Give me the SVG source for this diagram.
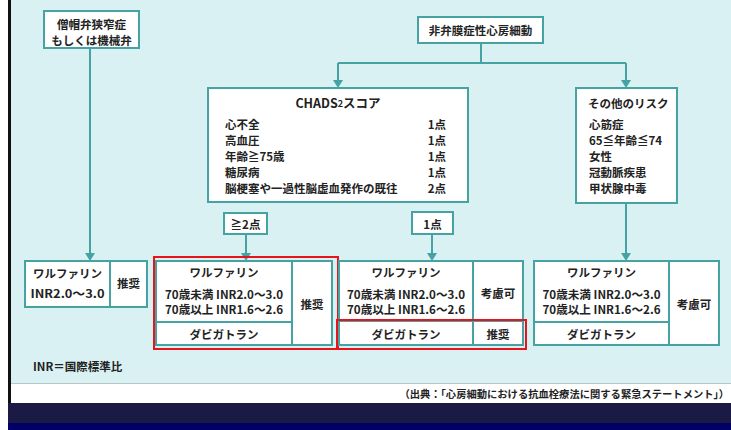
<svg xmlns="http://www.w3.org/2000/svg" width="731" height="430" viewBox="0 0 731 430">
<style>
.box{fill:#fff;stroke:#45a3a3;stroke-width:2}
.div{stroke:#45a3a3;stroke-width:2;fill:none}
.red{fill:none;stroke:#e8141b;stroke-width:2}
.con{stroke:#45a3a3;stroke-width:2;fill:none}
.ah{fill:#45a3a3}
text{font-family:"Noto Sans CJK JP","Noto Sans",sans-serif;font-size:11.5px;fill:#222;font-weight:700;dominant-baseline:central}
.c{text-anchor:middle}
.e{text-anchor:end}
.title{font-size:12.5px}
.src{font-size:10.3px}
</style>
<rect x="0" y="0" width="731" height="430" fill="#fff"/>
<rect x="11" y="0" width="720" height="383" fill="#d9f1f2"/>
<rect x="8" y="0" width="3" height="403" fill="#111"/>
<line x1="11" y1="383.5" x2="731" y2="383.5" stroke="#b8c8c8" stroke-width="1"/>
<rect x="8" y="403" width="723" height="20" fill="#1a1a45"/>
<rect x="8" y="423" width="723" height="7" fill="#000066"/>

<g id="connectors">
<path class="con" d="M90,48V253"/><polygon class="ah" points="85,253 95,253 90,261"/>
<path class="con" d="M481,43V63M338,63H626M338,63V80M626,63V80"/>
<polygon class="ah" points="333,80 343,80 338,88"/>
<polygon class="ah" points="621,80 631,80 626,88"/>
<path class="con" d="M246,234V253"/><polygon class="ah" points="241,253 251,253 246,261"/>
<path class="con" d="M432,234V253"/><polygon class="ah" points="427,253 437,253 432,261"/>
<path class="con" d="M626,203V253"/><polygon class="ah" points="621,253 631,253 626,261"/>
</g>

<g id="mitral">
<rect class="box" x="44" y="11" width="95" height="37"/>
<text class="c" x="91.5" y="24">僧帽弁狭窄症</text>
<text class="c" x="91.5" y="39.5">もしくは機械弁</text>
</g>

<g id="af">
<rect class="box" x="418" y="17" width="125" height="26"/>
<text class="c" x="480.5" y="30">非弁膜症性心房細動</text>
</g>

<g id="chads">
<rect class="box" x="208" y="88" width="260" height="114"/>
<text class="c title" x="338" y="102">CHADS<tspan font-size="9" dy="1">2</tspan><tspan dy="-1">スコア</tspan></text>
<text x="225" y="124">心不全</text>
<text x="225" y="140">高血圧</text>
<text x="225" y="156">年齢≧75歳</text>
<text x="225" y="172">糖尿病</text>
<text x="225" y="188">脳梗塞や一過性脳虚血発作の既往</text>
<text class="e" x="446" y="124">1点</text>
<text class="e" x="446" y="140">1点</text>
<text class="e" x="446" y="156">1点</text>
<text class="e" x="446" y="172">1点</text>
<text class="e" x="446" y="188">2点</text>
</g>

<g id="risk">
<rect class="box" x="576" y="88" width="101" height="115"/>
<text x="588" y="103">その他のリスク</text>
<text x="589" y="124">心筋症</text>
<text x="589" y="140">65≦年齢≦74</text>
<text x="589" y="156">女性</text>
<text x="589" y="172">冠動脈疾患</text>
<text x="589" y="188">甲状腺中毒</text>
</g>

<g id="ge2">
<rect class="box" x="224" y="213" width="43" height="21"/>
<text class="c" x="245.5" y="224">≧2点</text>
</g>

<g id="p1">
<rect class="box" x="412" y="212" width="41" height="22"/>
<text class="c" x="432.5" y="223.5">1点</text>
</g>

<g id="resA">
<rect class="box" x="25" y="261" width="122" height="46"/>
<path class="div" d="M110,261V307"/>
<text class="c" x="67.5" y="273">ワルファリン</text>
<text class="c" x="67.5" y="293" textLength="74" lengthAdjust="spacingAndGlyphs">INR2.0〜3.0</text>
<text class="c" x="128.5" y="283">推奨</text>
</g>

<g id="resB">
<rect class="box" x="156" y="261" width="176" height="84"/>
<path class="div" d="M292,261V345M156,322H292"/>
<text class="c" x="224" y="272">ワルファリン</text>
<text class="c" x="224" y="294" textLength="118" lengthAdjust="spacingAndGlyphs">70歳未満 INR2.0〜3.0</text>
<text class="c" x="224" y="309" textLength="118" lengthAdjust="spacingAndGlyphs">70歳以上 INR1.6〜2.6</text>
<text class="c" x="224" y="334">ダビガトラン</text>
<text class="c" x="312" y="304">推奨</text>
<rect class="red" x="154" y="257" width="184" height="92"/>
</g>

<g id="resC">
<rect class="box" x="339" y="261" width="184" height="84"/>
<path class="div" d="M473,261V345M339,321H523"/>
<text class="c" x="406" y="272">ワルファリン</text>
<text class="c" x="406" y="294" textLength="118" lengthAdjust="spacingAndGlyphs">70歳未満 INR2.0〜3.0</text>
<text class="c" x="406" y="309" textLength="118" lengthAdjust="spacingAndGlyphs">70歳以上 INR1.6〜2.6</text>
<text class="c" x="406" y="334">ダビガトラン</text>
<text class="c" x="498" y="293">考慮可</text>
<text class="c" x="498" y="334">推奨</text>
<rect class="red" x="337" y="320" width="189" height="29"/>
</g>

<g id="resD">
<rect class="box" x="534" y="261" width="185" height="84"/>
<path class="div" d="M669,261V345M534,322H669"/>
<text class="c" x="601.5" y="272">ワルファリン</text>
<text class="c" x="601.5" y="294" textLength="118" lengthAdjust="spacingAndGlyphs">70歳未満 INR2.0〜3.0</text>
<text class="c" x="601.5" y="309" textLength="118" lengthAdjust="spacingAndGlyphs">70歳以上 INR1.6〜2.6</text>
<text class="c" x="601.5" y="334">ダビガトラン</text>
<text class="c" x="694" y="304">考慮可</text>
</g>

<g id="notes">
<text x="33" y="366">INR＝国際標準比</text>
<text class="e src" x="729" y="393">（出典：「心房細動における抗血栓療法に関する緊急ステートメント」）</text>
</g>
</svg>
